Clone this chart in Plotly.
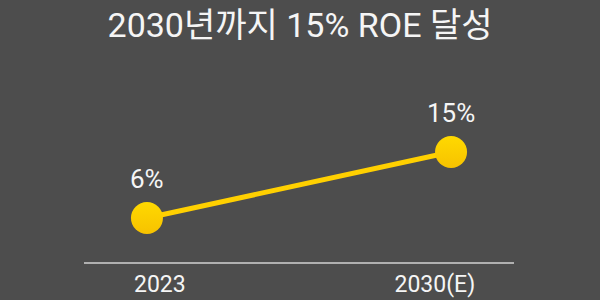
import plotly.graph_objects as go

categories = ["2023", "2030(E)"]
roe = [6, 15]
labels = ["6%", "15%"]
title = "2030년까지 15% ROE 달성"

BG = "#4d4d4d"
YEL = "#FFD000"
FONT = "Roboto, Noto Sans CJK KR, sans-serif"

idx = list(range(len(categories)))

fig = go.Figure()
fig.add_trace(go.Scatter(
    x=idx, y=roe, mode="lines+markers",
    line=dict(color=YEL, width=5),
    marker=dict(size=32, color="#FFD900",
                gradient=dict(type="vertical", color="#F7C200")),
    cliponaxis=False, hoverinfo="skip", showlegend=False,
))
# invisible trace for the category label axis
fig.add_trace(go.Scatter(
    x=idx, y=roe, xaxis="x2", mode="markers",
    marker=dict(opacity=0), hoverinfo="skip", showlegend=False,
))

for xi, yi, lab in zip(idx, roe, labels):
    fig.add_annotation(x=xi, y=yi, xref="x", yref="y", text=lab,
                       showarrow=False, yanchor="middle", yshift=39,
                       font=dict(color="#f5f5f5", size=26, family=FONT))

fig.update_layout(
    width=600, height=300,
    paper_bgcolor=BG, plot_bgcolor=BG,
    margin=dict(l=84, r=86, t=60, b=38),
    title=dict(text=title, x=0.5, xanchor="center", y=0.915, yanchor="middle",
               font=dict(color="#f5f5f5", size=34, family=FONT),
               automargin=False),
    xaxis=dict(range=[-0.207, 1.207], showgrid=False, zeroline=False,
               showline=True, linecolor="#b0b0b0", linewidth=2,
               showticklabels=False, ticks="", fixedrange=True,
               automargin=False),
    xaxis2=dict(overlaying="x", anchor="y", side="bottom",
                range=[-0.276, 1.288], showgrid=False, zeroline=False,
                showline=False, ticks="", tickmode="array",
                tickvals=idx, ticktext=categories, ticklabelstandoff=6,
                tickfont=dict(color="#f5f5f5", size=23, family=FONT),
                automargin=False),
    yaxis=dict(range=[0, 27.55], visible=False, fixedrange=True,
               automargin=False),
)

fig.write_html("out.html")
